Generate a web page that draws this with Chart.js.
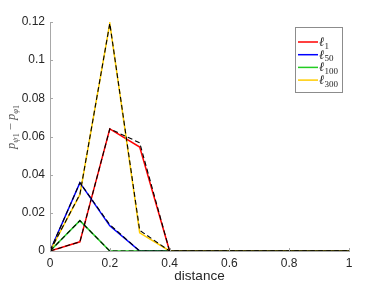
<!DOCTYPE html>
<html>
<head>
<meta charset="utf-8">
<script src="https://cdn.jsdelivr.net/npm/chart.js@4"></script>
<style>
  html, body { margin: 0; padding: 0; background: #fff; }
  #wrap { width: 386px; height: 290px; position: relative; }
</style>
</head>
<body>
<div id="wrap"><canvas id="plot" width="386" height="290"></canvas></div>
<script>
// distances
const xs = [0, 0.1, 0.2, 0.3, 0.4, 0.5, 0.6, 0.7, 0.8, 0.9, 1.0];

// coloured curves
const l1 = [0, 0.0048, 0.064, 0.0545, 0, 0, 0, 0, 0, 0, 0];
const l50 = [0, 0.0358, 0.0132, 0, 0, 0, 0, 0, 0, 0, 0];
const l100 = [0, 0.0159, 0, 0, 0, 0, 0, 0, 0, 0, 0];
const l300 = [0, 0.0295, 0.1193, 0.0095, 0, 0, 0, 0, 0, 0, 0];

// black dashed overlays
const l1Ref = [0, 0.0048, 0.064, 0.0567, 0, 0, 0, 0, 0, 0, 0];
const l50Ref = [0, 0.0358, 0.0138, 0, 0, 0, 0, 0, 0, 0, 0];
const l100Ref = [0, 0.0159, 0, 0, 0, 0, 0, 0, 0, 0, 0];
const l300Ref = [0, 0.0297, 0.1193, 0.0108, 0, 0, 0, 0, 0, 0, 0];

const xTicks = [0, 0.2, 0.4, 0.6, 0.8, 1];
const yTicks = [0, 0.02, 0.04, 0.06, 0.08, 0.1, 0.12];

const legendItems = [
  { sub: "1", color: "#ff0000" },
  { sub: "50", color: "#0000ff" },
  { sub: "100", color: "#22cc22" },
  { sub: "300", color: "#ffcc00" },
];

const pts = (ys) => xs.map((x, i) => ({ x: x, y: ys[i] }));

// higher order is drawn first (underneath)
function solid(ys, color, order) {
  return { data: pts(ys), borderColor: color, borderWidth: 1.5, pointRadius: 0, tension: 0, fill: false, order: order };
}
function dashed(ys) {
  return { data: pts(ys), borderColor: "#000", borderWidth: 1.1, borderDash: [5, 3], pointRadius: 0, tension: 0, fill: false, order: 0 };
}

const tickFont = { family: "'Liberation Sans', Arial, sans-serif", size: 12 };
const axisColor = "#a8a8a8";
const textColor = "#262626";

// inward ticks, axis labels and legend (MATLAB look)
const extras = {
  id: "extras",
  afterDraw(chart) {
    const ctx = chart.ctx;
    const sx = chart.scales.x, sy = chart.scales.y;
    const area = chart.chartArea;
    ctx.save();
    ctx.strokeStyle = axisColor;
    ctx.lineWidth = 1;
    ctx.beginPath();
    xTicks.forEach((v) => {
      const px = Math.round(sx.getPixelForValue(v)) + 0.5;
      ctx.moveTo(px, area.bottom);
      ctx.lineTo(px, area.bottom - 3);
    });
    yTicks.forEach((v) => {
      const py = Math.round(sy.getPixelForValue(v)) + 0.5;
      ctx.moveTo(area.left, py);
      ctx.lineTo(area.left + 3, py);
    });
    ctx.stroke();

    // x label
    ctx.fillStyle = textColor;
    ctx.font = "13.5px 'Liberation Sans', Arial, sans-serif";
    ctx.textAlign = "center";
    ctx.textBaseline = "middle";
    ctx.fillText("distance", (area.left + area.right) / 2, 276);

    // y label: p_{psi1} - p_{phi1}
    ctx.translate(12, 127);
    ctx.rotate(-Math.PI / 2);
    ctx.fillStyle = "#555";
    ctx.textBaseline = "alphabetic";
    ctx.textAlign = "left";
    const big = "italic 12.5px 'Liberation Serif', 'DejaVu Serif', serif";
    const small = "italic 8.5px 'Liberation Serif', 'DejaVu Serif', serif";
    const smallUp = "8px 'Liberation Serif', 'DejaVu Serif', serif";
    const parts = [
      { t: "p", f: big, dy: 0 },
      { t: "\u03c8", f: small, dy: 2.5 },
      { t: "1", f: smallUp, dy: 4 },
      { t: " \u2212 ", f: "12.5px 'Liberation Serif', serif", dy: 0 },
      { t: "p", f: big, dy: 0 },
      { t: "\u03c6", f: small, dy: 2.5 },
      { t: "1", f: smallUp, dy: 4 },
    ];
    let w = 0;
    parts.forEach((p) => { ctx.font = p.f; w += ctx.measureText(p.t).width; });
    let cx = -w / 2;
    parts.forEach((p) => {
      ctx.font = p.f;
      ctx.fillText(p.t, cx, 3 + p.dy);
      cx += ctx.measureText(p.t).width;
    });
    ctx.restore();

    // legend box
    ctx.save();
    const bx = 295.5, by = 27.5, bw = 47, bh = 65;
    ctx.fillStyle = "#fff";
    ctx.fillRect(bx, by, bw, bh);
    ctx.strokeStyle = "#8c8c8c";
    ctx.lineWidth = 1;
    ctx.strokeRect(bx, by, bw, bh);
    legendItems.forEach((item, i) => {
      const y = 42 + i * 12.7;
      ctx.strokeStyle = item.color;
      ctx.lineWidth = 1.5;
      ctx.beginPath();
      ctx.moveTo(298, y);
      ctx.lineTo(318, y);
      ctx.stroke();
      ctx.fillStyle = "#262626";
      ctx.textAlign = "left";
      ctx.textBaseline = "alphabetic";
      ctx.font = "italic 13px 'Liberation Serif', 'DejaVu Serif', serif";
      ctx.fillText("\u2113", 319, y + 4);
      const lw = ctx.measureText("\u2113").width;
      ctx.font = "9px 'Liberation Serif', 'DejaVu Serif', serif";
      ctx.fillText(item.sub, 319 + lw, y + 6.5);
    });
    ctx.restore();
  },
};

new Chart(document.getElementById("plot").getContext("2d"), {
  type: "line",
  data: {
    datasets: [
      solid(l1, legendItems[0].color, 4),
      solid(l50, legendItems[1].color, 3),
      solid(l100, legendItems[2].color, 2),
      solid(l300, legendItems[3].color, 1),
      dashed(l1Ref),
      dashed(l50Ref),
      dashed(l100Ref),
      dashed(l300Ref),
    ],
  },
  options: {
    responsive: false,
    animation: false,
    devicePixelRatio: 1,
    layout: { padding: { top: 22, right: 37, left: 0, bottom: 0 } },
    plugins: { legend: { display: false }, tooltip: { enabled: false } },
    scales: {
      x: {
        type: "linear",
        min: 0,
        max: 1,
        grid: { display: false, drawTicks: false, tickLength: 0 },
        border: { display: true, color: axisColor, width: 1 },
        afterBuildTicks: (s) => { s.ticks = xTicks.map((v) => ({ value: v })); },
        afterFit: (s) => { s.height = 39; },
        ticks: { color: textColor, font: tickFont, padding: 5, maxRotation: 0, callback: (v) => String(v) },
      },
      y: {
        min: 0,
        max: 0.12,
        grid: { display: false, drawTicks: false, tickLength: 0 },
        border: { display: true, color: axisColor, width: 1 },
        afterBuildTicks: (s) => { s.ticks = yTicks.map((v) => ({ value: v })); },
        afterFit: (s) => { s.width = 50; },
        ticks: { color: textColor, font: tickFont, padding: 5, callback: (v) => String(v) },
      },
    },
  },
  plugins: [extras],
});
</script>
</body>
</html>
